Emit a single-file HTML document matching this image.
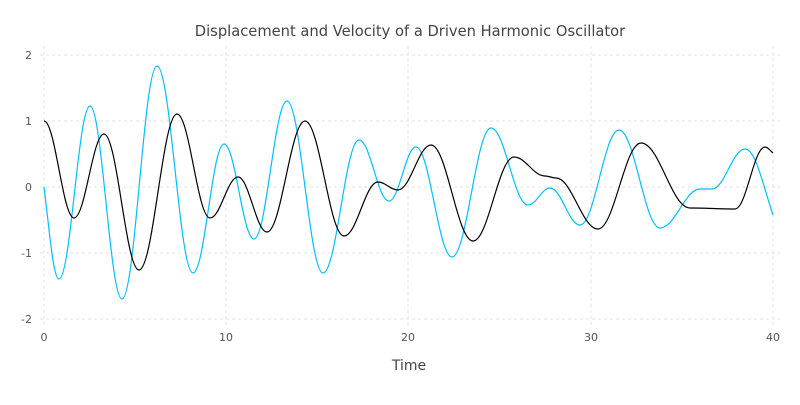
<!DOCTYPE html>
<html><head><meta charset="utf-8"><style>
html,body{margin:0;padding:0;background:#fff;}
svg text{font-family:"DejaVu Sans","Liberation Sans",sans-serif;}
</style></head><body>
<svg id="c" width="800" height="400" xmlns="http://www.w3.org/2000/svg">
<rect width="800" height="400" fill="#fff"/>
<text x="410" y="36" text-anchor="middle" font-size="14.7" fill="#444">Displacement and Velocity of a Driven Harmonic Oscillator</text>
<g stroke="#e3e3e3" stroke-width="1" stroke-dasharray="3,3">
<line x1="44" y1="46" x2="44" y2="325"/><line x1="226" y1="46" x2="226" y2="325"/>
<line x1="408" y1="46" x2="408" y2="325"/><line x1="591" y1="46" x2="591" y2="325"/>
<line x1="773" y1="46" x2="773" y2="325"/>
<line x1="40" y1="55" x2="780" y2="55"/><line x1="40" y1="121" x2="780" y2="121"/>
<line x1="40" y1="187" x2="780" y2="187"/><line x1="40" y1="253" x2="780" y2="253"/>
<line x1="40" y1="319" x2="780" y2="319"/>
</g>
<g font-size="11" fill="#555" text-anchor="end">
<text x="32" y="59">2</text><text x="32" y="125">1</text><text x="32" y="191">0</text>
<text x="32" y="257">-1</text><text x="32" y="323">-2</text>
</g>
<g font-size="11" fill="#555" text-anchor="middle">
<text x="44" y="341">0</text><text x="226" y="341">10</text><text x="408" y="341">20</text>
<text x="591" y="341">30</text><text x="773" y="341">40</text>
</g>
<text x="409" y="370" text-anchor="middle" font-size="14" fill="#444">Time</text>
<path id="v" fill="none" stroke="#00bfff" stroke-width="1.2"/>
<path id="x" fill="none" stroke="#000" stroke-width="1.2"/>
</svg>
<script>
function build(p,startSlope,endSlope){
  var d="M"+p[0][0]+","+p[0][1];
  for(var i=0;i<p.length-1;i++){
    var a=p[i],b=p[i+1],dx=(b[0]-a[0])*0.38;
    var s0=(i==0)?startSlope:0, s1=(i==p.length-2)?endSlope:0;
    d+=" C"+(a[0]+dx)+","+(a[1]+s0*dx)+" "+(b[0]-dx)+","+(b[1]-s1*dx)+" "+b[0]+","+b[1];
  }
  return d;
}
var bx=[[44,121],[74,218],[104,134],[139,270],[177,114],[210,218],[238,177],[267,232],[305,121],[344,236],[378,182],[398,190],[431,145],[473,241],[514,157],[545,176],[556,178],[598,229],[641,143],[690,208],[735,209],[765,147],[773,153]];
var cv=[[44,187],[59,279],[90,106],[122,299],[157,66],[193,273],[224,144],[254,239],[287,101],[323,273],[359,140],[389,201],[416,147],[452,257],[491,128],[528,205],[550,188],[580,225],[619,130],[660,228],[700,189],[712,189],[745,149],[773,215]];
document.getElementById("x").setAttribute("d",build(bx,0,0.8));
document.getElementById("v").setAttribute("d",build(cv,8,3));
</script>
</body></html>
